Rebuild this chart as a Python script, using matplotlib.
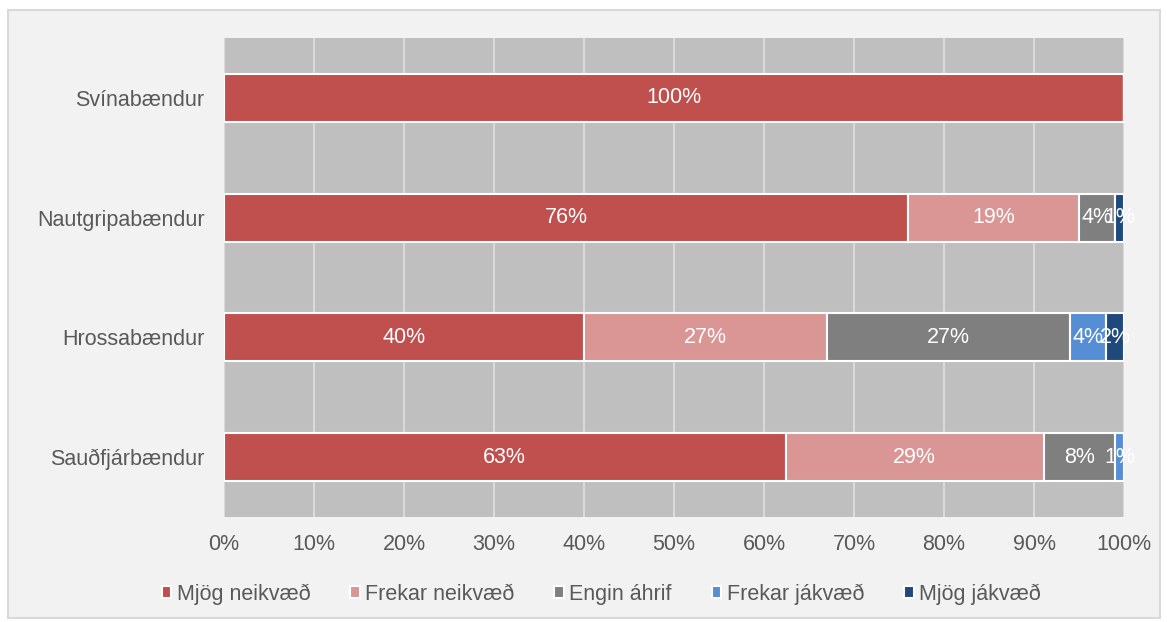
import numpy as np
import matplotlib.pyplot as plt
from matplotlib.patches import Rectangle

plt.rcParams['font.family'] = ['Liberation Sans', 'DejaVu Sans']

groups = ['Svínabændur', 'Nautgripabændur', 'Hrossabændur', 'Sauðfjárbændur']
series = ['Mjög neikvæð', 'Frekar neikvæð', 'Engin áhrif', 'Frekar jákvæð', 'Mjög jákvæð']
colors = ['#c0504d', '#d99694', '#7f7f7f', '#558ed5', '#1f497d']

# share (%) per group, in series order
mjog_neikvaed = [100, 76, 40, 62.4]
frekar_neikvaed = [0, 19, 27, 28.7]
engin_ahrif = [0, 4, 27, 7.9]
frekar_jakvaed = [0, 0, 4, 1.0]
mjog_jakvaed = [0, 1, 2, 0]

# labels as printed on the bars
labels = [
    ['100%', '', '', '', ''],
    ['76%', '19%', '4%', '', '1%'],
    ['40%', '27%', '27%', '4%', '2%'],
    ['63%', '29%', '8%', '1%', ''],
]

values = np.array([mjog_neikvaed, frekar_neikvaed, engin_ahrif,
                   frekar_jakvaed, mjog_jakvaed])

fig = plt.figure(figsize=(11.67, 6.22), dpi=100)
fig.patch.set_facecolor('white')
fig.patches.append(Rectangle((8 / 1167, 4 / 622), 1152 / 1167, 608 / 622,
                             transform=fig.transFigure, facecolor='#f2f2f2',
                             edgecolor='#d9d9d9', linewidth=1.5, zorder=-5))

ax = fig.add_axes([224 / 1167, 1 - 517 / 622, 900 / 1167, 479 / 622])
ax.set_zorder(2)
ax.set_facecolor('#bfbfbf')

y = np.arange(len(groups))
left = np.zeros(len(groups))
for i, name in enumerate(series):
    ax.barh(y, values[i], left=left, height=0.4, color=colors[i],
            edgecolor='white', linewidth=1.5, label=name, zorder=3)
    for j in range(len(groups)):
        txt = labels[j][i]
        if txt:
            ax.text(left[j] + values[i][j] / 2, y[j], txt, ha='center',
                    va='center', color='white', fontsize=15.5, zorder=4)
    left += values[i]

ax.set_xlim(0, 100)
ax.set_ylim(len(groups) - 0.5, -0.5)
ax.set_xticks(np.arange(0, 101, 10))
ax.set_xticklabels([f'{v}%' for v in range(0, 101, 10)])
ax.set_yticks(y)
ax.set_yticklabels(groups)
ax.tick_params(axis='both', length=0, labelsize=15.5, colors='#595959')
ax.tick_params(axis='x', pad=12.5)
ax.tick_params(axis='y', pad=14)
ax.grid(axis='x', color='#d9d9d9', linewidth=1.5, zorder=1)
ax.set_axisbelow(True)
for s in ax.spines.values():
    s.set_visible(False)

ax.legend(loc='center', bbox_to_anchor=(0.419, -0.161), ncol=5,
          frameon=False, fontsize=15.5, handlelength=0.45, handleheight=0.45,
          handletextpad=0.25, columnspacing=1.85, labelcolor='#595959')

fig.savefig('out.png', dpi=100, facecolor=fig.get_facecolor())
